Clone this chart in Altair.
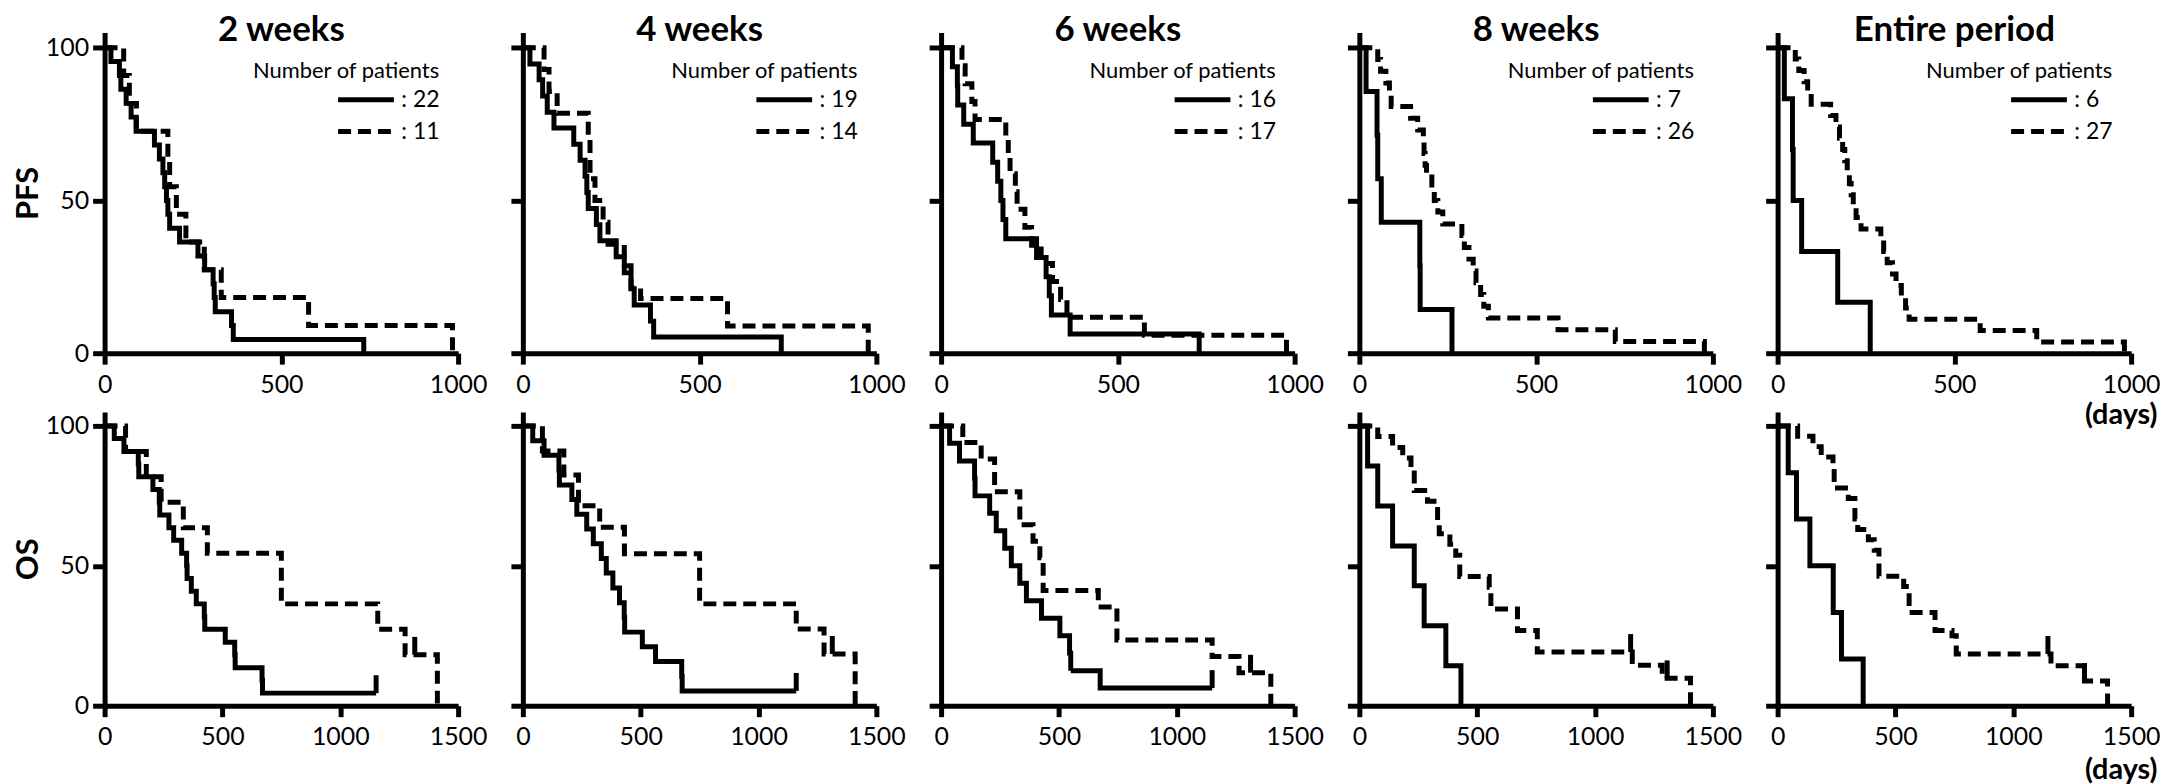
import altair as alt
import pandas as pd

FONT = "Lato"

PANEL_TITLES = ["2 weeks", "4 weeks", "6 weeks", "8 weeks", "Entire period"]
N_SOLID = [22, 19, 16, 7, 6]
N_DASHED = [11, 14, 17, 26, 27]
PFS_X_TICKS = [0, 500, 1000]
OS_X_TICKS = [0, 500, 1000, 1500]
Y_TICKS = [0, 50, 100]

# ---------------- PFS (top row) ----------------
PFS_2W_SOLID_T = [0, 18, 42, 46, 61, 75, 89, 141, 155, 165, 170, 175, 179, 184, 212, 264, 283, 307, 310, 313, 359, 364, 733]
PFS_2W_SOLID_S = [100, 95.5, 90.9, 86.4, 81.8, 77.3, 72.7, 68.2, 63.6, 59.1, 54.5, 50, 45.5, 40.9, 36.4, 31.8, 27.3, 22.7, 18.2, 13.6, 9.1, 4.5, 0]
PFS_2W_DASH_T = [0, 54, 70, 90, 179, 184, 203, 230, 282, 330, 577, 984]
PFS_2W_DASH_S = [100, 90.9, 81.8, 72.7, 63.6, 54.5, 45.5, 36.4, 27.3, 18.2, 9.1, 0]

PFS_4W_SOLID_T = [0, 20, 46, 56, 69, 88, 144, 162, 176, 181, 185, 208, 218, 264, 287, 306, 315, 361, 370, 731]
PFS_4W_SOLID_S = [100, 94.7, 89.5, 84.2, 78.9, 73.7, 68.4, 63.2, 57.9, 52.6, 47.4, 42.1, 36.8, 31.6, 26.3, 21.1, 15.8, 10.5, 5.3, 0]
PFS_4W_DASH_T = [0, 60, 74, 97, 185, 190, 204, 227, 241, 287, 306, 333, 579, 977]
PFS_4W_DASH_S = [100, 92.9, 85.7, 78.6, 71.4, 57.1, 50, 42.9, 35.7, 28.6, 21.4, 17.9, 8.9, 0]

PFS_6W_SOLID_T = [0, 32, 46, 47, 64, 91, 146, 160, 169, 175, 183, 270, 297, 306, 312, 365, 730]
PFS_6W_SOLID_S = [100, 93.8, 87.5, 81.3, 75, 68.8, 62.5, 56.3, 50, 43.8, 37.5, 31.3, 25, 18.8, 12.5, 6.3, 0]
PFS_6W_DASH_T = [0, 59, 68, 87, 96, 183, 190, 195, 210, 215, 237, 256, 283, 315, 338, 356, 575, 977]
PFS_6W_DASH_S = [100, 94.1, 88.2, 82.4, 76.5, 70.6, 64.7, 58.8, 52.9, 47.1, 41.2, 35.3, 29.4, 23.5, 17.6, 11.8, 5.9, 0]

PFS_8W_SOLID_T = [0, 19, 50, 52, 62, 171, 172, 262]
PFS_8W_SOLID_S = [100, 85.7, 71.4, 57.1, 42.9, 28.6, 14.3, 0]
PFS_8W_DASH_T = [0, 52, 60, 75, 85, 90, 145, 165, 181, 183, 186, 190, 205, 212, 222, 236, 290, 297, 310, 322, 330, 343, 352, 365, 562, 724, 976]
PFS_8W_DASH_S = [100, 96.2, 92.3, 88.5, 84.6, 80.8, 76.9, 73.1, 69.2, 65.4, 61.5, 57.7, 53.8, 50, 46.2, 42.3, 38.5, 34.6, 30.8, 26.9, 23.1, 19.2, 15.4, 11.5, 7.7, 3.8, 0]

PFS_ALL_SOLID_T = [0, 19, 42, 44, 68, 170, 262]
PFS_ALL_SOLID_S = [100, 83.3, 66.7, 50, 33.3, 16.7, 0]
PFS_ALL_DASH_T = [0, 50, 60, 75, 85, 95, 150, 165, 175, 184, 190, 197, 203, 208, 214, 222, 236, 292, 300, 310, 325, 335, 350, 362, 372, 573, 733, 981]
PFS_ALL_DASH_S = [100, 96.3, 92.6, 88.9, 85.2, 81.5, 77.8, 74.1, 70.4, 66.7, 63, 59.3, 55.6, 51.9, 48.1, 44.4, 40.7, 37, 33.3, 29.6, 25.9, 22.2, 18.5, 14.8, 11.1, 7.4, 3.7, 0]

# ---------------- OS (bottom row) ----------------
OS_2W_SOLID_T = [0, 41, 82, 143, 145, 205, 232, 234, 273, 293, 327, 348, 350, 368, 389, 423, 425, 512, 552, 554, 668, 670, 1152]
OS_2W_SOLID_S = [100, 95.5, 90.9, 86.4, 81.8, 77.3, 72.7, 68.2, 63.6, 59.1, 54.5, 50, 45.5, 40.9, 36.4, 31.8, 27.3, 22.7, 18.2, 13.6, 9.1, 4.5, 4.5]
OS_2W_DASH_T = [0, 89, 177, 240, 334, 436, 750, 1159, 1275, 1412]
OS_2W_DASH_S = [100, 90.9, 81.8, 72.7, 63.6, 54.5, 36.4, 27.3, 18.2, 0]
OS_2W_CENS_T = [1152, 1316]
OS_2W_CENS_S = [4.5, 18.2]

OS_4W_SOLID_T = [0, 42, 90, 153, 155, 208, 229, 271, 299, 333, 354, 382, 410, 430, 432, 507, 563, 674, 676, 1160]
OS_4W_SOLID_S = [100, 94.7, 89.5, 84.2, 78.9, 73.7, 68.4, 63.2, 57.9, 52.6, 47.4, 42.1, 36.8, 31.6, 26.3, 21.1, 15.8, 10.5, 5.3, 5.3]
OS_4W_DASH_T = [0, 83, 174, 236, 326, 431, 750, 1160, 1278, 1410]
OS_4W_DASH_S = [100, 91, 82.5, 71.5, 63.8, 54.3, 36.4, 27.4, 18.5, 0]
OS_4W_CENS_T = [1160, 1313]
OS_4W_CENS_S = [5.3, 18.5]

OS_6W_SOLID_T = [0, 36, 78, 142, 144, 206, 234, 270, 298, 334, 362, 426, 504, 545, 550, 675, 1150]
OS_6W_SOLID_S = [100, 93.8, 87.5, 81.3, 75, 68.8, 62.5, 56.3, 50, 43.8, 37.5, 31.3, 25, 18.8, 12.5, 6.3, 6.3]
OS_6W_DASH_T = [0, 92, 170, 227, 334, 390, 419, 433, 667, 746, 1150, 1264, 1399]
OS_6W_DASH_S = [100, 94.1, 88.2, 76.5, 64.7, 58.8, 52.9, 41.2, 35.3, 23.5, 17.6, 11.8, 0]
OS_6W_CENS_T = [1150, 1313]
OS_6W_CENS_S = [6.3, 11.8]

OS_8W_SOLID_T = [0, 35, 78, 141, 233, 275, 367, 431]
OS_8W_SOLID_S = [100, 85.7, 71.4, 57.1, 42.9, 28.6, 14.3, 0]
OS_8W_DASH_T = [0, 78, 141, 184, 219, 233, 289, 332, 339, 384, 409, 426, 551, 558, 671, 755, 1158, 1285, 1405]
OS_8W_DASH_S = [100, 96.2, 92.3, 88.5, 84.6, 76.9, 73.1, 65.4, 61.5, 57.7, 53.8, 46.2, 42.3, 34.6, 26.9, 19.2, 14.5, 9.8, 0]
OS_8W_CENS_T = [1151, 1306]
OS_8W_CENS_S = [19.2, 9.8]

OS_ALL_SOLID_T = [0, 45, 80, 137, 236, 271, 363]
OS_ALL_SOLID_S = [100, 83.3, 66.7, 50, 33.3, 16.7, 0]
OS_ALL_DASH_T = [0, 85, 150, 185, 235, 240, 300, 328, 340, 385, 410, 430, 535, 558, 668, 740, 758, 1160, 1302, 1400]
OS_ALL_DASH_S = [100, 96.3, 92.6, 88.9, 85.2, 77.8, 74.1, 66.7, 63, 59.3, 55.6, 46.3, 42.6, 33.3, 26.9, 25, 18.5, 14.3, 8.8, 0]
OS_ALL_CENS_T = [1147, 1302]
OS_ALL_CENS_S = [18.5, 8.8]

PFS_CURVES = [
    (PFS_2W_SOLID_T, PFS_2W_SOLID_S, PFS_2W_DASH_T, PFS_2W_DASH_S),
    (PFS_4W_SOLID_T, PFS_4W_SOLID_S, PFS_4W_DASH_T, PFS_4W_DASH_S),
    (PFS_6W_SOLID_T, PFS_6W_SOLID_S, PFS_6W_DASH_T, PFS_6W_DASH_S),
    (PFS_8W_SOLID_T, PFS_8W_SOLID_S, PFS_8W_DASH_T, PFS_8W_DASH_S),
    (PFS_ALL_SOLID_T, PFS_ALL_SOLID_S, PFS_ALL_DASH_T, PFS_ALL_DASH_S),
]
OS_CURVES = [
    (OS_2W_SOLID_T, OS_2W_SOLID_S, OS_2W_DASH_T, OS_2W_DASH_S),
    (OS_4W_SOLID_T, OS_4W_SOLID_S, OS_4W_DASH_T, OS_4W_DASH_S),
    (OS_6W_SOLID_T, OS_6W_SOLID_S, OS_6W_DASH_T, OS_6W_DASH_S),
    (OS_8W_SOLID_T, OS_8W_SOLID_S, OS_8W_DASH_T, OS_8W_DASH_S),
    (OS_ALL_SOLID_T, OS_ALL_SOLID_S, OS_ALL_DASH_T, OS_ALL_DASH_S),
]
OS_CENSORS = [
    (OS_2W_CENS_T, OS_2W_CENS_S),
    (OS_4W_CENS_T, OS_4W_CENS_S),
    (OS_6W_CENS_T, OS_6W_CENS_S),
    (OS_8W_CENS_T, OS_8W_CENS_S),
    (OS_ALL_CENS_T, OS_ALL_CENS_S),
]

W = 355
H_TOP = 322
H_BOT = 295


def make_panel(col, curves, xmax, xticks, height, top, censors=None):
    ts, ss, td, sd = curves
    lab_s = f": {N_SOLID[col]}"
    lab_d = f": {N_DASHED[col]}"
    rows = []
    for i, (t, s) in enumerate(zip(ts, ss)):
        rows.append({"t": t, "s": s, "g": lab_s, "i": i})
    for i, (t, s) in enumerate(zip(td, sd)):
        rows.append({"t": t, "s": s, "g": lab_d, "i": i})
    df = pd.DataFrame(rows)

    x_axis_kw = dict(
        values=xticks, format="d", domainColor="black", domainWidth=5, tickColor="black",
        tickWidth=5, tickSize=11, labelFont=FONT, labelFontSize=25,
        labelColor="black", labelPadding=8, grid=False, labelFlush=False,
    )
    if col == 4:
        x_axis = alt.Axis(titleFont=FONT, titleFontSize=29,
                          titleFontWeight="bold", titleColor="black",
                          titleAnchor="end", titleAlign="right", titleBaseline="bottom",
                          titleX=W + 26, titleY=77 if top else 79, **x_axis_kw)
    else:
        x_axis = alt.Axis(**x_axis_kw)

    y_axis_kw = dict(
        values=Y_TICKS, domainColor="black", domainWidth=5, tickColor="black",
        tickWidth=5, tickSize=12, grid=False,
    )
    if col == 0:
        y_axis = alt.Axis(titleFont=FONT, titleFontSize=31,
                          titleFontWeight="bold", titleColor="black", titlePadding=1,
                          labelFont=FONT, labelFontSize=25, labelColor="black",
                          labelPadding=4, **y_axis_kw)
    else:
        y_axis = alt.Axis(labels=False, **y_axis_kw)

    if top:
        legend = alt.Legend(
            title="Number of patients", orient="none", legendX=W - 206, legendY=29,
            titleFont=FONT, titleFontSize=22, titleFontWeight="normal", titleColor="black",
            titleLimit=500, titlePadding=0, labelFont=FONT, labelFontSize=23,
            labelColor="black", labelLimit=200,
            labelOffset=19, symbolType="M-2,0H2", symbolSize=784, symbolStrokeWidth=5,
            symbolStrokeColor="black", symbolOffset=97, rowPadding=3, padding=0,
        )
    else:
        legend = None

    xs = alt.Scale(domain=[0, xmax], nice=False, zero=True)
    ys = alt.Scale(domain=[0, 105], nice=False)

    lines = alt.Chart(df).mark_line(
        interpolate="step-after", color="black", strokeWidth=5, strokeCap="butt"
    ).encode(
        x=alt.X("t:Q", scale=xs, axis=x_axis, title="(days)" if col == 4 else None),
        y=alt.Y("s:Q", scale=ys, axis=y_axis,
                title=("PFS" if top else "OS") if col == 0 else None),
        strokeDash=alt.StrokeDash("g:N", scale=alt.Scale(domain=[lab_s, lab_d], range=[[1, 0], [13, 7]]),
                                  legend=legend),
        order="i:Q",
    )
    layers = [lines]
    if censors is not None:
        cdf = pd.DataFrame({"t": censors[0], "s": censors[1]})
        ticks = alt.Chart(cdf).mark_tick(
            orient="vertical", color="black", opacity=1, thickness=5, size=18, yOffset=-9
        ).encode(
            x=alt.X("t:Q", scale=xs),
            y=alt.Y("s:Q", scale=ys),
        )
        layers.append(ticks)

    props = dict(width=W, height=height)
    if top:
        props["title"] = alt.TitleParams(
            text=PANEL_TITLES[col], font=FONT, fontSize=35, fontWeight="bold",
            color="black", anchor="middle", baseline="alphabetic", offset=-44,
        )
    return alt.layer(*layers).properties(**props)


panels = [make_panel(c, PFS_CURVES[c], 1000, PFS_X_TICKS, H_TOP, True) for c in range(5)]
panels += [make_panel(c, OS_CURVES[c], 1500, OS_X_TICKS, H_BOT, False, OS_CENSORS[c]) for c in range(5)]

chart = alt.concat(*panels, columns=5, spacing={"row": 59, "column": 65}, bounds="flush").properties(
    padding={"left": 4, "top": 4, "right": 2, "bottom": 2},
    background="white",
).configure_view(stroke=None).resolve_scale(strokeDash="independent", x="independent", y="independent")

chart.save("out.html", embed_options={"renderer": "svg", "actions": False})
